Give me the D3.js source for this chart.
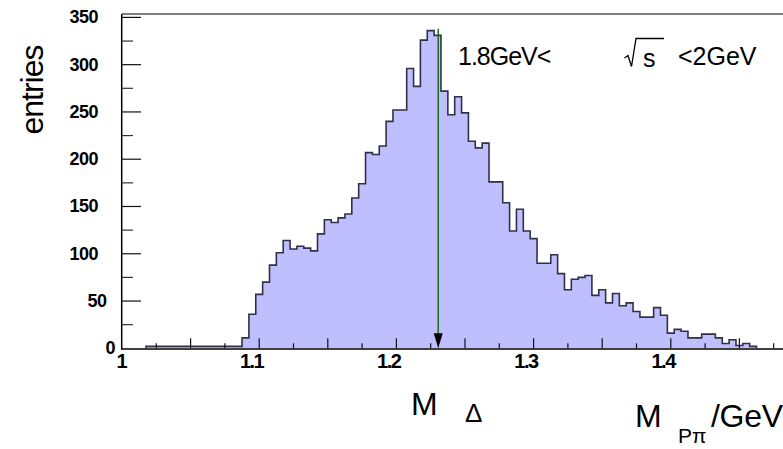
<!DOCTYPE html>
<html>
<head>
<meta charset="utf-8">
<script src="https://cdn.jsdelivr.net/npm/d3@7"></script>
<style>
  html, body { margin: 0; padding: 0; background: #ffffff; }
  svg { display: block; font-family: "Liberation Sans", Arial, sans-serif; }
</style>
</head>
<body>
<svg id="chart" width="783" height="449"></svg>
<script>
// ---- data ----
const binStart = 1.0175;
const binWidth = 0.005;
const counts = [
  2, 2, 2, 2, 2, 2, 2, 2, 2, 2, 2, 2, 2, 2,
  11, 36, 57, 70, 88, 101, 114, 105, 108, 106, 103, 121, 136, 133, 138, 142,
  159, 174, 207, 205, 214, 240, 252, 252, 296, 277, 326, 336, 331, 272, 247, 266,
  249, 219, 212, 217, 176, 176, 154, 124, 147, 124, 116, 90, 90, 99, 79, 62,
  73, 75, 77, 56, 62, 48, 58, 45, 48, 39, 33, 33, 43, 35, 16, 20,
  18, 11, 11, 15, 15, 11, 5, 9, 3, 5, 2
];
const xTickLabels = ["1", "1.1", "1.2", "1.3", "1.4"];
const xTickValues = [1.0, 1.1, 1.2, 1.3, 1.4];
const yTickValues = [0, 50, 100, 150, 200, 250, 300, 350];
const deltaMass = 1.2305;
const deltaArrowTop = 338;

// ---- scales ----
const svg = d3.select("#chart");
const x = d3.scaleLinear().domain([1.0, 1.5]).range([122, 808]);
const y = d3.scaleLinear().domain([0, 350]).range([348.3, 17.4]);

// ---- histogram ----
const pts = counts.map((c, i) => ({ x: binStart + i * binWidth, v: c }));
const endX = binStart + counts.length * binWidth;
const stepPts = [{ x: binStart, v: 0 }].concat(pts).concat([{ x: endX, v: 0 }]);

const area = d3.area()
  .x(d => x(d.x)).y0(y(0)).y1(d => y(d.v))
  .curve(d3.curveStepAfter);
const line = d3.line()
  .x(d => x(d.x)).y(d => y(d.v))
  .curve(d3.curveStepAfter);

svg.append("path").datum(pts.concat([{ x: endX, v: 0 }]))
  .attr("d", area).attr("fill", "#bfbfff").attr("stroke", "none");
svg.append("path").datum(stepPts)
  .attr("d", line).attr("fill", "none")
  .attr("stroke", "#30304a").attr("stroke-width", 1.6)
  .attr("stroke-linejoin", "miter");

// ---- frame / axes ----
const W = 783;
svg.append("line").attr("x1", x(1)).attr("x2", W).attr("y1", 14).attr("y2", 14)
  .attr("stroke", "#7f7f7f").attr("stroke-width", 2);
svg.append("line").attr("x1", x(1)).attr("x2", W).attr("y1", y(0) + 0.7).attr("y2", y(0) + 0.7)
  .attr("stroke", "#404040").attr("stroke-width", 2);
svg.append("line").attr("x1", x(1) - 0.3).attr("x2", x(1) - 0.3).attr("y1", 14).attr("y2", y(0) + 1.5)
  .attr("stroke", "#000").attr("stroke-width", 1.5);

// y ticks (major 50, minor 25)
const yMinor = d3.range(25, 351, 50);
svg.append("g").selectAll("line.ymaj").data(yTickValues.filter(v => v > 0)).join("line")
  .attr("x1", x(1)).attr("x2", x(1) + 19)
  .attr("y1", d => y(d)).attr("y2", d => y(d))
  .attr("stroke", "#111").attr("stroke-width", 1.2);
svg.append("g").selectAll("line.ymin").data(yMinor).join("line")
  .attr("x1", x(1)).attr("x2", x(1) + 11)
  .attr("y1", d => y(d)).attr("y2", d => y(d))
  .attr("stroke", "#333").attr("stroke-width", 1.2);

// x ticks (0.05 long, 0.025 short)
const xTicksAll = d3.range(1, 60).map(i => 1 + i * 0.025).filter(v => v <= 1.5001);
svg.append("g").selectAll("line").data(xTicksAll).join("line")
  .attr("x1", d => x(d)).attr("x2", d => x(d))
  .attr("y1", y(0))
  .attr("y2", (d, i) => y(0) - (((i + 1) % 2 === 0) ? 10 : 5))
  .attr("stroke", "#111").attr("stroke-width", 1.2);

// y labels
svg.append("g").selectAll("text").data(yTickValues).join("text")
  .attr("x", d => 98 + (3 - String(d).length) * 8.5)
  .attr("y", d => y(d) + 6)
  .attr("text-anchor", "end")
  .attr("font-size", 18).attr("font-weight", "bold")
  .attr("letter-spacing", -0.5)
  .text(d => String(d));

// x labels
svg.append("g").selectAll("text").data(xTickValues).join("text")
  .attr("x", d => x(d) + 4)
  .attr("y", 368)
  .attr("text-anchor", "end")
  .attr("font-size", 20).attr("font-weight", "bold")
  .attr("letter-spacing", -1.5)
  .text((d, i) => xTickLabels[i]);

// ---- Delta arrow ----
svg.append("line")
  .attr("x1", x(deltaMass)).attr("x2", x(deltaMass))
  .attr("y1", y(deltaArrowTop)).attr("y2", y(0) - 10)
  .attr("stroke", "#1b6b1b").attr("stroke-width", 1.5);
const ax = x(deltaMass), ay = y(0);
svg.append("path")
  .attr("d", `M${ax - 4.5},${ay - 15} L${ax + 4.5},${ay - 15} L${ax},${ay} Z`)
  .attr("fill", "#000");

// ---- annotation ----
svg.append("text").attr("x", 458).attr("y", 65)
  .attr("font-size", 25).attr("letter-spacing", -1).text("1.8GeV<");
svg.append("path")
  .attr("d", "M624.5,58 L628,55.5 L631.5,66.5 L636,38.5 L664,38.5")
  .attr("fill", "none").attr("stroke", "#000").attr("stroke-width", 1.3);
svg.append("text").attr("x", 643).attr("y", 66.5)
  .attr("font-size", 25).text("s");
svg.append("text").attr("x", 678).attr("y", 65)
  .attr("font-size", 25).attr("letter-spacing", 0).text("<2GeV");

// ---- axis titles ----
svg.append("text")
  .attr("transform", "translate(43,90) rotate(-90)")
  .attr("text-anchor", "middle")
  .attr("font-size", 32).attr("letter-spacing", -1)
  .text("entries");

svg.append("text").attr("x", 411).attr("y", 415).attr("font-size", 32).text("M");
svg.append("text").attr("x", 465).attr("y", 422).attr("font-size", 26).text("Δ");

svg.append("text").attr("x", 635).attr("y", 427).attr("font-size", 32).text("M");
svg.append("text").attr("x", 678).attr("y", 443).attr("font-size", 21).text("Pπ");
svg.append("text").attr("x", 711).attr("y", 427).attr("font-size", 32)
  .attr("letter-spacing", -0.3).text("/GeV");
</script>
</body>
</html>
